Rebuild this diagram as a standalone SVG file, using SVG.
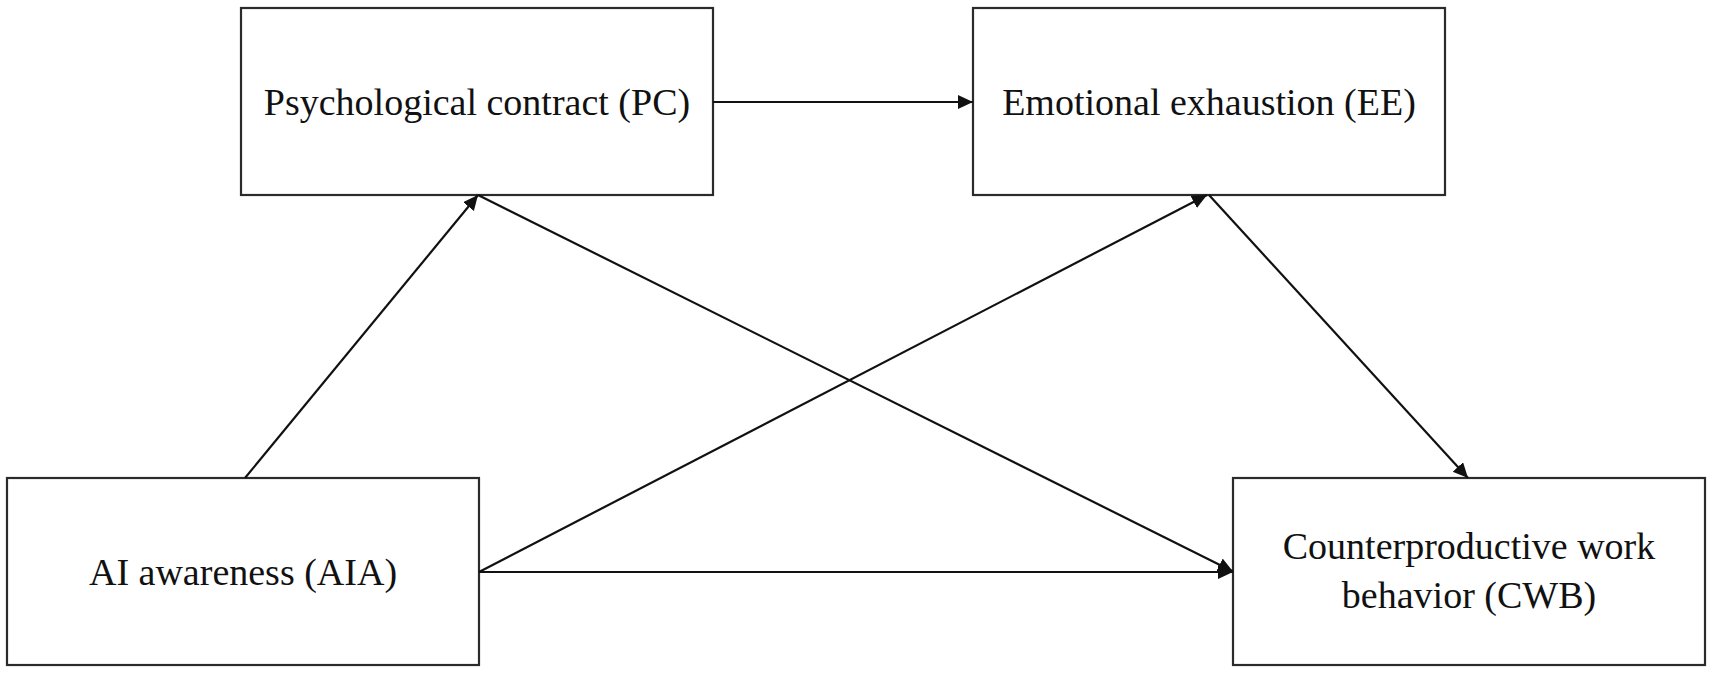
<svg xmlns="http://www.w3.org/2000/svg" width="1713" height="674" viewBox="0 0 1713 674">
<style>
.box{fill:#fff;stroke:#2b2b2b;stroke-width:2.2}
.lbl{font-family:"Liberation Serif","Times New Roman",serif;font-size:38px;fill:#111;text-anchor:middle}
.conn{stroke:#111;stroke-width:2.2;fill:none;marker-end:url(#arrow)}
</style>
<defs>
<marker id="arrow" markerUnits="userSpaceOnUse" markerWidth="16" markerHeight="15" refX="15" refY="7" orient="auto">
<path d="M0,0 L15,7 L0,14 z" fill="#111"/>
</marker>
</defs>
<rect width="1713" height="674" fill="#fff"/>
<g id="node-pc">
<rect class="box" x="241" y="8" width="472" height="187"/>
<text class="lbl" x="477" y="115">Psychological contract (PC)</text>
</g>
<g id="node-ee">
<rect class="box" x="973" y="8" width="472" height="187"/>
<text class="lbl" x="1209" y="115">Emotional exhaustion (EE)</text>
</g>
<g id="node-aia">
<rect class="box" x="7" y="478" width="472" height="187"/>
<text class="lbl" x="243" y="585">AI awareness (AIA)</text>
</g>
<g id="node-cwb">
<rect class="box" x="1233" y="478" width="472" height="187"/>
<text class="lbl" x="1469" y="559">Counterproductive work</text>
<text class="lbl" x="1469" y="608">behavior (CWB)</text>
</g>
<g id="connectors">
<line class="conn" x1="713" y1="102" x2="973" y2="102"/>
<line class="conn" x1="245" y1="478" x2="478" y2="195"/>
<line class="conn" x1="478" y1="195" x2="1233" y2="571.5"/>
<line class="conn" x1="479" y1="572" x2="1233" y2="572"/>
<line class="conn" x1="479" y1="572" x2="1207" y2="195"/>
<line class="conn" x1="1209" y1="195" x2="1468" y2="478"/>
</g>
</svg>
